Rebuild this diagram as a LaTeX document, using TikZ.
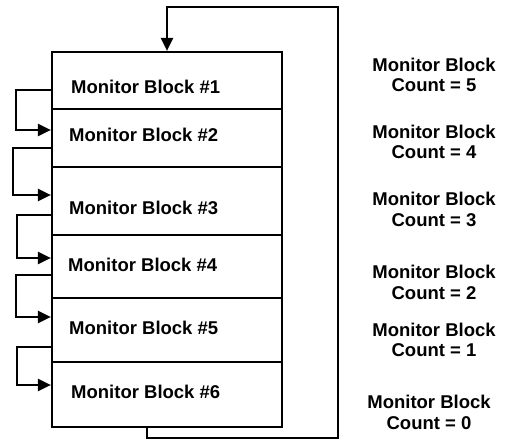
\documentclass[tikz,border=0pt]{standalone}
\usepackage{fontspec}
\setmainfont{Liberation Sans}
\usetikzlibrary{arrows.meta}
\usetikzlibrary{positioning}

\begin{document}
\begin{tikzpicture}[x=1pt,y=-1pt,
    block/.style={draw,line width=2.2pt,minimum width=230pt,inner sep=0pt},
    blocktext/.style={anchor=west,inner sep=0pt,font=\bfseries\fontsize{18.5}{20.5}\selectfont},
    countlabel/.style={align=center,inner sep=0pt,font=\bfseries\fontsize{18.5}{20.5}\selectfont},
    feed/.style={line width=2.2pt,-{Triangle[length=13pt,width=12pt]}}]
    \useasboundingbox (0,0) rectangle (511,441);

    % Blocks
    \node[block,minimum height=57pt] (b1) at (167,80.5) {};
    \node[block,minimum height=58pt] (b2) at (167,138) {};
    \node[block,minimum height=68pt] (b3) at (167,201) {};
    \node[block,minimum height=63pt] (b4) at (167,266.5) {};
    \node[block,minimum height=64pt] (b5) at (167,330) {};
    \node[block,minimum height=65pt] (b6) at (167,394.5) {};

    \node[blocktext] (t1) at (71,87) {Monitor Block \#1};
    \node[blocktext] (t2) at (69,135) {Monitor Block \#2};
    \node[blocktext] (t3) at (69,208) {Monitor Block \#3};
    \node[blocktext] (t4) at (68,265) {Monitor Block \#4};
    \node[blocktext] (t5) at (69,328) {Monitor Block \#5};
    \node[blocktext] (t6) at (71,392) {Monitor Block \#6};

    % Links between neighbours
    \draw[feed] ([yshift=-9.5pt]b1.west) -- (16,90) |- ([yshift=8pt]b2.west);
    \draw[feed] ([yshift=-10pt]b2.west) -- (13,148) |- ([yshift=6pt]b3.west);
    \draw[feed] ([yshift=-14pt]b3.west) -- (17,215) |- ([yshift=8.5pt]b4.west);
    \draw[feed] ([yshift=-8.5pt]b4.west) -- (16,275) |- ([yshift=13pt]b5.west);
    \draw[feed] ([yshift=-17pt]b5.west) -- (17,347) |- ([yshift=9.5pt]b6.west);

    % Return path
    \coordinate (rb) at (338,438);
    \coordinate (rt) at (338,7);
    \draw[feed] ([xshift=-20pt]b6.south) |- (rb) -- (rt) -| (b1.north);

    % Counts
    \node[countlabel] (c5) at (434,75) {Monitor Block\\Count = 5};
    \node[countlabel] (c4) at (434,142) {Monitor Block\\Count = 4};
    \node[countlabel] (c3) at (434,209.5) {Monitor Block\\Count = 3};
    \node[countlabel] (c2) at (434,282.5) {Monitor Block\\Count = 2};
    \node[countlabel] (c1) at (434,340) {Monitor Block\\Count = 1};
    \node[countlabel] (c0) at (429,412.5) {Monitor Block\\Count = 0};
\end{tikzpicture}
\end{document}
